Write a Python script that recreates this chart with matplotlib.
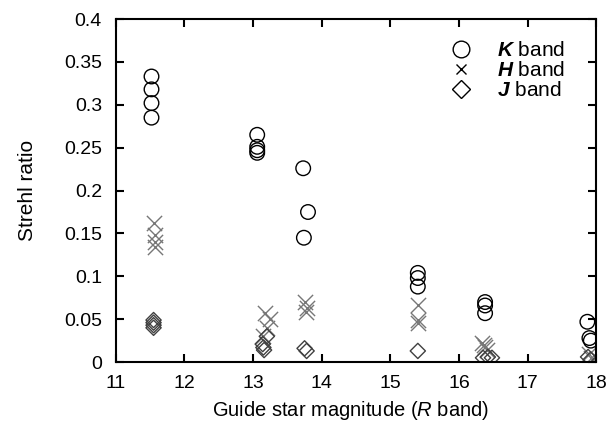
import matplotlib
matplotlib.use("Agg")
import matplotlib.pyplot as plt
from matplotlib.lines import Line2D
from matplotlib.ticker import FuncFormatter

plt.rcParams['font.family'] = ['Liberation Sans', 'DejaVu Sans']
plt.rcParams['mathtext.fontset'] = 'custom'
plt.rcParams['mathtext.bfit'] = 'Liberation Sans:bold:italic'
plt.rcParams['mathtext.it'] = 'Liberation Sans:italic'

# K band (circles)
k_mag = [11.52, 11.52, 11.52, 11.52, 13.06, 13.06, 13.06, 13.06,
         13.73, 13.80, 13.74, 15.40, 15.40, 15.40, 16.38, 16.38, 16.38,
         17.87, 17.90, 17.92]
k_sr = [0.333, 0.318, 0.302, 0.285, 0.265, 0.251, 0.247, 0.244,
        0.226, 0.175, 0.145, 0.104, 0.098, 0.088, 0.070, 0.066, 0.057,
        0.047, 0.028, 0.025]

# H band (crosses)
h_mag = [11.55, 11.57, 11.57, 11.57, 13.18, 13.24, 13.20, 13.15,
         13.76, 13.78, 13.77, 15.40, 15.40, 15.40,
         16.34, 16.38, 16.41, 16.36, 17.90, 17.92]
h_sr = [0.162, 0.148, 0.140, 0.134, 0.057, 0.050, 0.040, 0.030,
        0.070, 0.063, 0.058, 0.066, 0.049, 0.045,
        0.022, 0.018, 0.014, 0.020, 0.010, 0.005]

# J band (diamonds)
j_mag = [11.55, 11.55, 11.55, 11.55, 13.14, 13.15, 13.16, 13.20,
         13.75, 13.78, 15.40, 16.35, 16.48, 16.42, 17.88, 17.92]
j_sr = [0.049, 0.046, 0.043, 0.040, 0.021, 0.017, 0.014, 0.030,
        0.016, 0.013, 0.013, 0.005, 0.005, 0.006, 0.006, 0.003]

band_labels = [r'$\mathbfit{K}$ band', r'$\mathbfit{H}$ band', r'$\mathbfit{J}$ band']

fig = plt.figure(figsize=(6.16, 4.23), dpi=100)
ax = fig.add_axes([0.188, 0.144, 0.780, 0.811])

ax.scatter(k_mag, k_sr, s=110, marker='o', facecolors='none',
           edgecolors='black', linewidths=1.0, zorder=3)
ax.scatter(h_mag, h_sr, s=120, marker='x', color='#777777',
           linewidths=1.0, zorder=2)
ax.scatter(j_mag, j_sr, s=60, marker='D', facecolors='none',
           edgecolors='#404040', linewidths=1.0, zorder=2)

ax.set_xlim(11, 18)
ax.set_ylim(0, 0.4)
ax.set_xticks(range(11, 19))
ax.set_yticks([0, 0.05, 0.1, 0.15, 0.2, 0.25, 0.3, 0.35, 0.4])
ax.yaxis.set_major_formatter(FuncFormatter(lambda v, p: '%g' % round(v, 2)))
ax.tick_params(direction='in', length=6, width=1.5, labelsize=14,
               top=True, right=True)
ax.tick_params(axis='y', pad=10)
ax.tick_params(axis='x', pad=9)
for s in ax.spines.values():
    s.set_linewidth(1.5)

ax.set_xlabel(r'Guide star magnitude ($\mathit{R}$ band)', fontsize=14.5, va='center')
ax.set_ylabel('Strehl ratio', fontsize=15, va='center')
ax.xaxis.set_label_coords(0.488, -0.142)
ax.yaxis.set_label_coords(-0.183, 0.50)

handles = [
    Line2D([], [], ls='none', marker='o', ms=12, mfc='none', mec='black', mew=1.0),
    Line2D([], [], ls='none', marker='x', ms=7.5, color='black', mew=1.0),
    Line2D([], [], ls='none', marker='D', ms=9.5, mfc='none', mec='black', mew=1.0),
]
ax.legend(handles, band_labels, loc='upper left', bbox_to_anchor=(0.675, 0.935),
          frameon=False, fontsize=15, handlelength=2.0, handletextpad=0.74,
          labelspacing=0.05, borderpad=0, borderaxespad=0)

fig.savefig('out.png', dpi=100)
